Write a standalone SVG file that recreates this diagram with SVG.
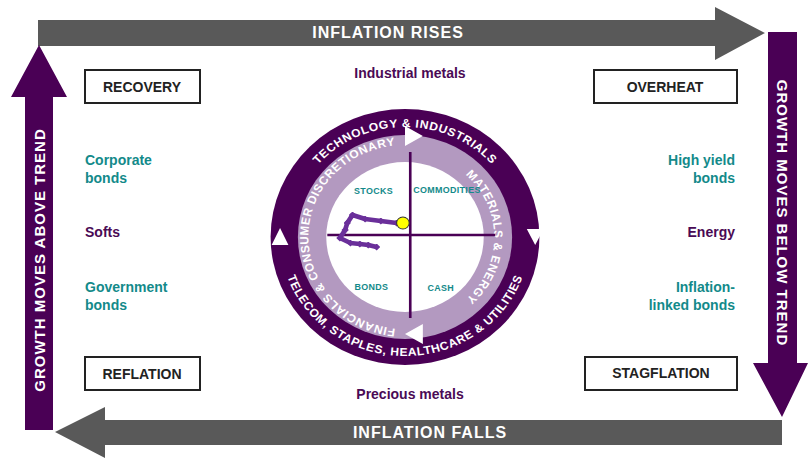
<svg xmlns="http://www.w3.org/2000/svg" width="808" height="459" viewBox="0 0 808 459">
<style>
.b{font-family:"Liberation Sans",Arial,sans-serif;font-weight:bold}
.box{fill:#fff;stroke:#222;stroke-width:2}
.bt{font-size:14px;fill:#222;text-anchor:middle}
.t{font-size:14px;fill:#138a8a}
.p{font-size:14px;fill:#4a0a55}
.l{text-anchor:start}
.r{text-anchor:end}
.m{text-anchor:middle}
.w{fill:#fff}
.rt{font-size:11.5px;fill:#fff;letter-spacing:0.6px}
.q{font-size:8.5px;fill:#138a8a;text-anchor:middle;letter-spacing:0.3px}
</style>
<defs>
<marker id="d" markerWidth="7" markerHeight="7" refX="3.5" refY="3.5" markerUnits="userSpaceOnUse"><path d="M3.5,0 L7,3.5 L3.5,7 L0,3.5Z" fill="#6a2f9a"/></marker>
<path id="oTop" d="M290,237 A110,110 0 0 1 510,237"/>
<path id="oBot" d="M281,237 A119,119 0 0 0 519,237"/>
<path id="iRight" d="M400,152 A85,85 0 0 1 400,322"/>
<path id="iLeft" d="M400,329 A92,92 0 0 1 400,145"/>
</defs>
<rect width="808" height="459" fill="#fff"/>
<g id="connectors">
<path d="M38,20 H715 V7 L765,33 L715,60 V46 H38Z" fill="#595959"/>
<path d="M782,420 H105 V407 L55,432 L105,458 V445 H782Z" fill="#595959"/>
<path d="M25,430 V97 H11 L39,45 L67,97 H53 V430Z" fill="#4a0055"/>
<path d="M768,32 V363 H753 L782,417 L808,363 H797 V32Z" fill="#4a0055"/>
</g>
<text class="b w m" x="388" y="38" font-size="16" letter-spacing="1">INFLATION RISES</text>
<text class="b w m" x="430" y="438" font-size="16" letter-spacing="1">INFLATION FALLS</text>
<text class="b w m" transform="translate(45,260) rotate(-90)" font-size="15" letter-spacing="1">GROWTH MOVES ABOVE TREND</text>
<text class="b w m" transform="translate(777,213) rotate(90)" font-size="15" letter-spacing="1">GROWTH MOVES BELOW TREND</text>
<g id="recovery"><rect class="box" x="85" y="70" width="115" height="33"/><text class="b bt" x="142" y="92">RECOVERY</text></g>
<g id="overheat"><rect class="box" x="594" y="70" width="143" height="33"/><text class="b bt" x="665" y="92">OVERHEAT</text></g>
<g id="reflation"><rect class="box" x="85" y="357" width="115" height="33"/><text class="b bt" x="142" y="379">REFLATION</text></g>
<g id="stagflation"><rect class="box" x="585" y="357" width="152" height="33"/><text class="b bt" x="661" y="378">STAGFLATION</text></g>
<g id="labels">
<text class="b p m" x="410" y="78">Industrial metals</text>
<text class="b p m" x="410" y="399">Precious metals</text>
<text class="b t l" x="85" y="165">Corporate</text><text class="b t l" x="85" y="183">bonds</text>
<text class="b p l" x="85" y="237">Softs</text>
<text class="b t l" x="85" y="292">Government</text><text class="b t l" x="85" y="310">bonds</text>
<text class="b t r" x="735" y="165">High yield</text><text class="b t r" x="735" y="183">bonds</text>
<text class="b p r" x="735" y="237">Energy</text>
<text class="b t r" x="735" y="292">Inflation-</text><text class="b t r" x="735" y="310">linked bonds</text>
</g>
<g id="clock" transform="translate(405,237) scale(1.05,1) translate(-400,-237)">
<circle cx="400" cy="237" r="128" fill="#4a0055"/>
<circle cx="400" cy="237" r="102" fill="#b399c0"/>
<circle cx="400" cy="237" r="75" fill="#fff"/>
<text class="b rt"><textPath href="#oTop" startOffset="50%" text-anchor="middle">TECHNOLOGY &amp; INDUSTRIALS</textPath></text>
<text class="b rt"><textPath href="#oBot" startOffset="50%" text-anchor="middle">TELECOM, STAPLES, HEALTHCARE &amp; UTILITIES</textPath></text>
<text class="b rt" font-size="10.5"><textPath href="#iRight" startOffset="50%" text-anchor="middle">MATERIALS &amp; ENERGY</textPath></text>
<text class="b rt" font-size="10.5"><textPath href="#iLeft" startOffset="50%" text-anchor="middle">FINANCIALS &amp; CONSUMER DISCRETIONARY</textPath></text>
<path d="M400,126 L417,136 L400,146Z M117,0 M117,229 M117,229Z M113,0Z M116,0Z M116,229Z" fill="#fff"/>
<path d="M116,229 Z" fill="none"/>
<path d="M117,229 Z" fill="none"/>
<path d="M117,229 L117,229Z" fill="none"/>
<path d="M116,229" fill="none"/>
<path d="M516,229 L532,229 L524,245Z M417,324 L417,344 L400,334Z M273,245 L289,245 L281,228Z" fill="#fff"/>
<path d="M405,152 V318 M326,235 H486" stroke="#4a0055" stroke-width="2.5"/>
<text class="b q" x="370" y="194">STOCKS</text>
<text class="b q" x="440" y="193">COMMODITIES</text>
<text class="b q" x="368" y="290">BONDS</text>
<text class="b q" x="434" y="291">CASH</text>
<polyline points="392,223 377,221 362,219 350,215 345,223 343,230 338,238 348,243 357,244 365,245 373,247" fill="none" stroke="#6a2f9a" stroke-width="4.5" stroke-linejoin="round" marker-start="url(#d)" marker-mid="url(#d)" marker-end="url(#d)"/>
<circle cx="398" cy="223" r="6" fill="#ffff00" stroke="#333" stroke-width="1"/>
</g>
</svg>
